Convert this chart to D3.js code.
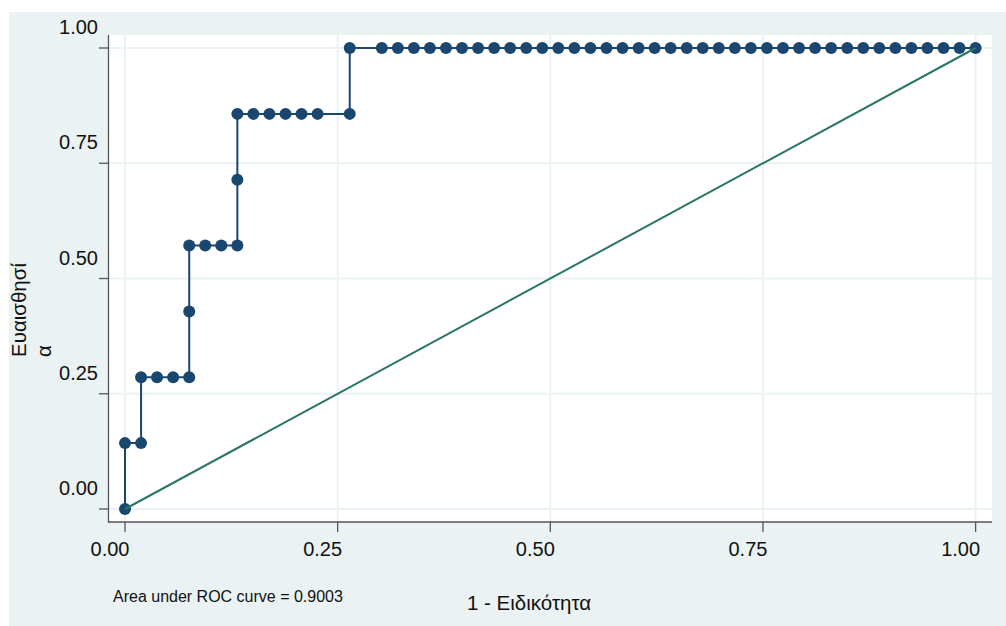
<!DOCTYPE html>
<html>
<head>
<meta charset="utf-8">
<script src="https://cdn.jsdelivr.net/npm/d3@7"></script>
<style>
  html, body { margin: 0; padding: 0; background: #ffffff; }
  svg { display: block; font-family: "Liberation Sans", Arial, sans-serif; }
</style>
</head>
<body>
<svg id="chart" width="1006" height="626"></svg>
<script>
// ROC curve: 1 - specificity (x) vs sensitivity (y)
const fpr = [
  0.0000, 0.0000, 0.0189, 0.0189, 0.0377, 0.0566, 0.0755, 0.0755, 0.0755,
  0.0943, 0.1132, 0.1321, 0.1321, 0.1321, 0.1509, 0.1698, 0.1887, 0.2075,
  0.2264, 0.2642, 0.2642, 0.3019, 0.3208, 0.3396, 0.3585, 0.3774, 0.3962,
  0.4151, 0.4340, 0.4528, 0.4717, 0.4906, 0.5094, 0.5283, 0.5472, 0.5660,
  0.5849, 0.6038, 0.6226, 0.6415, 0.6604, 0.6792, 0.6981, 0.7170, 0.7358,
  0.7547, 0.7736, 0.7925, 0.8113, 0.8302, 0.8491, 0.8679, 0.8868, 0.9057,
  0.9245, 0.9434, 0.9623, 0.9811, 1.0000
];
const sens = [
  0.0000, 0.1429, 0.1429, 0.2857, 0.2857, 0.2857, 0.2857, 0.4286, 0.5714,
  0.5714, 0.5714, 0.5714, 0.7143, 0.8571, 0.8571, 0.8571, 0.8571, 0.8571,
  0.8571, 0.8571, 1.0000, 1.0000, 1.0000, 1.0000, 1.0000, 1.0000, 1.0000,
  1.0000, 1.0000, 1.0000, 1.0000, 1.0000, 1.0000, 1.0000, 1.0000, 1.0000,
  1.0000, 1.0000, 1.0000, 1.0000, 1.0000, 1.0000, 1.0000, 1.0000, 1.0000,
  1.0000, 1.0000, 1.0000, 1.0000, 1.0000, 1.0000, 1.0000, 1.0000, 1.0000,
  1.0000, 1.0000, 1.0000, 1.0000, 1.0000
];
const refLine = [[0, 0], [1, 1]];
const ticks = [0, 0.25, 0.5, 0.75, 1];
const xTitle = '1 - Ειδικότητα';
const yTitleLines = ['Ευαισθησί', 'α'];
const aucNote = 'Area under ROC curve = 0.9003';

const points = fpr.map((x, i) => ({ x: x, y: sens[i] }));

const BG = '#eaf2f3';
const NAVY = '#1a476f';
const TEAL = '#2b7567';
const AXIS = '#555555';

const svg = d3.select('#chart');

// outer graph region
svg.append('rect')
  .attr('x', 9).attr('y', 12)
  .attr('width', 1006 - 9).attr('height', 626 - 12)
  .attr('fill', BG);

// plot region
const plot = { left: 109, top: 35, right: 992, bottom: 522 };
svg.append('rect')
  .attr('x', plot.left).attr('y', plot.top)
  .attr('width', plot.right - plot.left)
  .attr('height', plot.bottom - plot.top)
  .attr('fill', '#ffffff');

const x = d3.scaleLinear().domain([0, 1]).range([125, 975.6]);
const y = d3.scaleLinear().domain([0, 1]).range([509, 48]);

const fmt = d3.format('.2f');

// grid lines
const grid = svg.append('g');
grid.selectAll('.hgrid')
  .data(ticks).enter().append('line')
  .attr('x1', plot.left).attr('x2', plot.right)
  .attr('y1', d => y(d)).attr('y2', d => y(d))
  .attr('stroke', BG).attr('stroke-width', 2);
grid.selectAll('.vgrid')
  .data(ticks).enter().append('line')
  .attr('y1', plot.top).attr('y2', plot.bottom)
  .attr('x1', d => x(d)).attr('x2', d => x(d))
  .attr('stroke', BG).attr('stroke-width', 2);

// axes (drawn by hand to get Stata-like offset labels)
const yAxis = svg.append('g');
yAxis.append('line')
  .attr('x1', 108.5).attr('x2', 108.5)
  .attr('y1', plot.top).attr('y2', plot.bottom + 0.5)
  .attr('stroke', AXIS).attr('stroke-width', 1.3);
yAxis.selectAll('.tick')
  .data(ticks).enter().append('line')
  .attr('x1', 99).attr('x2', 108.5)
  .attr('y1', d => y(d)).attr('y2', d => y(d))
  .attr('stroke', AXIS).attr('stroke-width', 1.3);
yAxis.selectAll('.lab')
  .data(ticks).enter().append('text')
  .attr('x', 98)
  .attr('y', d => y(d) - 14)
  .attr('text-anchor', 'end')
  .attr('font-size', '20px')
  .attr('fill', '#111')
  .text(d => fmt(d));

const xAxis = svg.append('g');
xAxis.append('line')
  .attr('x1', 108).attr('x2', plot.right)
  .attr('y1', plot.bottom).attr('y2', plot.bottom)
  .attr('stroke', AXIS).attr('stroke-width', 1.3);
xAxis.selectAll('.tick')
  .data(ticks).enter().append('line')
  .attr('x1', d => x(d)).attr('x2', d => x(d))
  .attr('y1', plot.bottom).attr('y2', plot.bottom + 10)
  .attr('stroke', AXIS).attr('stroke-width', 1.3);
xAxis.selectAll('.lab')
  .data(ticks).enter().append('text')
  .attr('x', d => x(d) - 15)
  .attr('y', 556)
  .attr('text-anchor', 'middle')
  .attr('font-size', '20px')
  .attr('fill', '#111')
  .text(d => fmt(d));

// ROC step curve
const line = d3.line().x(d => x(d.x)).y(d => y(d.y));
svg.append('path')
  .datum(points)
  .attr('d', line)
  .attr('fill', 'none')
  .attr('stroke', NAVY)
  .attr('stroke-width', 2);

svg.selectAll('.pt')
  .data(points).enter().append('circle')
  .attr('cx', d => x(d.x))
  .attr('cy', d => y(d.y))
  .attr('r', 6)
  .attr('fill', NAVY);

// reference diagonal
svg.append('path')
  .datum(refLine)
  .attr('d', d3.line().x(d => x(d[0])).y(d => y(d[1])))
  .attr('fill', 'none')
  .attr('stroke', TEAL)
  .attr('stroke-width', 2);

// titles
svg.append('text')
  .attr('x', 529).attr('y', 610)
  .attr('text-anchor', 'middle')
  .attr('font-size', '20.5px')
  .attr('fill', '#111')
  .text(xTitle);

svg.append('text')
  .attr('transform', 'translate(26,357) rotate(-90)')
  .attr('font-size', '20.5px')
  .attr('fill', '#111')
  .text(yTitleLines[0]);
svg.append('text')
  .attr('transform', 'translate(51,357) rotate(-90)')
  .attr('font-size', '20.5px')
  .attr('fill', '#111')
  .text(yTitleLines[1]);

svg.append('text')
  .attr('x', 113).attr('y', 602)
  .attr('font-size', '16px')
  .attr('fill', '#111')
  .text(aucNote);
</script>
</body>
</html>
